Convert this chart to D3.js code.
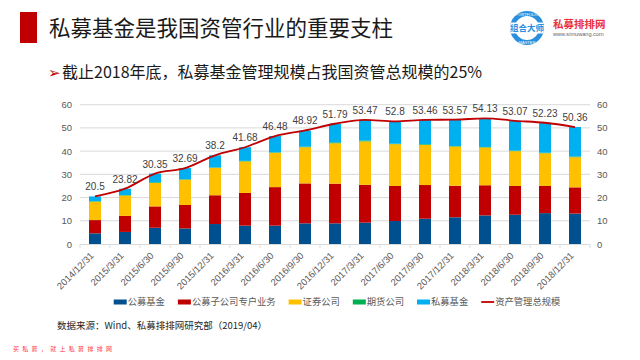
<!DOCTYPE html>
<html lang="zh">
<head>
<meta charset="UTF-8" />
<title>私募基金是我国资管行业的重要支柱</title>
<style>
  body { margin: 0; background: white; overflow: hidden; }
  svg { display: block; }
  text { font-family: "Liberation Sans", Arial, "Noto Sans CJK SC", sans-serif; }
  .cjk { font-family: "Noto Sans CJK SC", "Liberation Sans", sans-serif; }
</style>
</head>
<body>
<svg id="chart" width="640" height="360"></svg>
<script src="https://d3js.org/d3.v7.min.js"></script>
<script>
// ---- data (万亿元) ----
const dates = ["2014/12/31","2015/3/31","2015/6/30","2015/9/30","2015/12/31","2016/3/31",
  "2016/6/30","2016/9/30","2016/12/31","2017/3/31","2017/6/30","2017/9/30","2017/12/31",
  "2018/3/31","2018/6/30","2018/9/30","2018/12/31"];
const publicFunds   = [4.6, 5.2, 7.0, 6.7, 8.6, 7.9, 7.9, 8.9, 8.9, 9.2, 9.9, 10.9, 11.5, 12.3, 12.6, 13.3, 13.1];
const subsidiaries  = [5.7, 6.9, 9.2, 10.1, 12.4, 14.1, 16.6, 17.2, 17.1, 16.3, 15.1, 14.5, 13.6, 13.0, 12.4, 11.7, 11.3];
const securities    = [7.9, 8.8, 10.1, 10.9, 11.8, 13.6, 14.8, 15.6, 17.4, 18.7, 18.0, 17.3, 16.9, 16.3, 15.0, 14.1, 13.0];
const futures       = [0.2, 0.2, 0.3, 0.2, 0.2, 0.2, 0.2, 0.2, 0.4, 0.4, 0.2, 0.3, 0.2, 0.2, 0.2, 0.2, 0.3];
const privateFunds  = [2.1, 2.7, 3.75, 4.8, 5.2, 5.9, 7.0, 7.0, 8.0, 8.9, 9.6, 10.5, 11.4, 12.3, 12.9, 12.9, 12.7];
const totalScale    = [20.5, 23.82, 30.35, 32.69, 38.2, 41.68, 46.48, 48.92, 51.79, 53.47, 52.8, 53.46, 53.57, 54.13, 53.07, 52.23, 50.36];
const seriesNames   = ["公募基金", "公募子公司专户业务", "证券公司", "期货公司", "私募基金"];
const seriesColors  = ["#00508f", "#c00000", "#ffc000", "#00b050", "#00b0f0"];
const lineName = "资产管理总规模";
const lineColor = "#c00000";
const yTicks = [0, 10, 20, 30, 40, 50, 60];

const svg = d3.select("#chart");

// ---- header ----
svg.append("rect").attr("x", 20).attr("y", 12).attr("width", 17).attr("height", 31).attr("fill", "#c00000");
svg.append("text").attr("class", "cjk")
  .attr("x", 49).attr("y", 36)
  .attr("font-size", 21.5).attr("fill", "#1a1a1a")
  .text("私募基金是我国资管行业的重要支柱");

svg.append("text")
  .attr("x", 48).attr("y", 78)
  .attr("font-size", 15).attr("fill", "#c00000")
  .attr("font-family", "DejaVu Sans")
  .text("➢");
svg.append("text").attr("class", "cjk")
  .attr("x", 62).attr("y", 78)
  .attr("font-size", 16).attr("fill", "#1a1a1a")
  .text("截止2018年底，私募基金管理规模占我国资管总规模的25%");

// ---- logo ----
const logo = svg.append("g").attr("transform", "translate(527,28)");
logo.append("clipPath").attr("id", "logo-clip").append("circle").attr("r", 17);
logo.append("circle").attr("r", 17).attr("fill", "#2a8fdc");
logo.append("circle").attr("r", 12).attr("fill", "white");
logo.append("rect").attr("x", -17).attr("y", -5.5).attr("width", 34).attr("height", 11)
  .attr("fill", "white").attr("clip-path", "url(#logo-clip)");
logo.append("text").attr("class", "cjk").attr("text-anchor", "middle").attr("y", 3.2)
  .attr("font-size", 8.5).attr("font-weight", "bold").attr("fill", "#2a8fdc").text("组合大师");
logo.append("text").attr("text-anchor", "middle").attr("y", -12.5)
  .attr("font-size", 4).attr("fill", "white").text("PORTFOLIO");
logo.append("text").attr("text-anchor", "middle").attr("y", 15.5)
  .attr("font-size", 4).attr("fill", "white").text("MASTER");
svg.append("text").attr("class", "cjk")
  .attr("x", 553).attr("y", 28)
  .attr("font-size", 10.5).attr("font-weight", "bold").attr("fill", "#e8313c")
  .text("私募排排网");
svg.append("text")
  .attr("x", 553).attr("y", 36)
  .attr("font-size", 5.6).attr("fill", "#666")
  .text("www.simuwang.com");

// ---- chart ----
const plot = { left: 80, right: 590, top: 104.7, bottom: 244 };

const x = d3.scaleBand().domain(dates).range([plot.left, plot.right]).paddingInner(0.6).paddingOuter(0.3);
const y = d3.scaleLinear().domain([0, 60]).range([plot.bottom, plot.top]);

// gridlines
svg.append("g")
  .selectAll("line")
  .data(yTicks.filter(d => d > 0))
  .join("line")
  .attr("x1", plot.left).attr("x2", plot.right)
  .attr("y1", d => y(d)).attr("y2", d => y(d))
  .attr("stroke", "#d9d9d9").attr("stroke-width", 1);

// axes labels
const leftAxis = svg.append("g").attr("transform", `translate(${plot.left},0)`)
  .call(d3.axisLeft(y).tickValues(yTicks).tickSize(0).tickPadding(8));
const rightAxis = svg.append("g").attr("transform", `translate(${plot.right},0)`)
  .call(d3.axisRight(y).tickValues(yTicks).tickSize(0).tickPadding(7));
[leftAxis, rightAxis].forEach(a => {
  a.select(".domain").remove();
  a.selectAll("text").attr("font-size", 9.5).attr("fill", "#595959");
});

// stacked bars
const rows = dates.map((d, i) => ({
  date: d,
  s0: publicFunds[i], s1: subsidiaries[i], s2: securities[i], s3: futures[i], s4: privateFunds[i]
}));
const stack = d3.stack().keys(["s0", "s1", "s2", "s3", "s4"])(rows);

svg.append("g")
  .selectAll("g")
  .data(stack)
  .join("g")
  .attr("fill", (d, i) => seriesColors[i])
  .selectAll("rect")
  .data(d => d)
  .join("rect")
  .attr("x", d => x(d.data.date))
  .attr("width", x.bandwidth())
  .attr("y", d => y(d[1]))
  .attr("height", d => y(d[0]) - y(d[1]));

// x axis line + ticks at category boundaries
const step = x.step();
const bounds = [plot.left].concat(dates.map(d => x(d) + x.bandwidth() / 2 + step / 2));
const xAxis = svg.append("g");
xAxis.append("line")
  .attr("x1", plot.left).attr("x2", plot.right)
  .attr("y1", plot.bottom + 0.5).attr("y2", plot.bottom + 0.5)
  .attr("stroke", "#d9d9d9");
xAxis.selectAll("line.tick")
  .data(bounds)
  .join("line")
  .attr("class", "tick")
  .attr("x1", d => d).attr("x2", d => d)
  .attr("y1", plot.bottom).attr("y2", plot.bottom + 4)
  .attr("stroke", "#d9d9d9");
xAxis.selectAll("text")
  .data(dates)
  .join("text")
  .attr("transform", d => `translate(${x(d) + x.bandwidth() / 2 - 3},${plot.bottom + 10}) rotate(-45)`)
  .attr("text-anchor", "end")
  .attr("dy", "0.35em")
  .attr("font-size", 9.5)
  .attr("fill", "#595959")
  .text(d => d);

// total line
const line = d3.line()
  .x((d, i) => x(dates[i]) + x.bandwidth() / 2)
  .y(d => y(d))
  .curve(d3.curveMonotoneX);
svg.append("path")
  .datum(totalScale)
  .attr("d", line)
  .attr("fill", "none")
  .attr("stroke", lineColor)
  .attr("stroke-width", 1.8);

// data labels
svg.append("g")
  .selectAll("text")
  .data(totalScale)
  .join("text")
  .attr("x", (d, i) => x(dates[i]) + x.bandwidth() / 2)
  .attr("y", d => y(d) - 6)
  .attr("text-anchor", "middle")
  .attr("font-size", 10)
  .attr("fill", "#404040")
  .text(d => d);

// ---- legend ----
const legendItems = seriesNames.map((n, i) => ({ name: n, color: seriesColors[i], type: "bar" }))
  .concat([{ name: lineName, color: lineColor, type: "line" }]);
const legend = svg.append("g");
const ly = 302;
let lx = 0;
const itemGs = legend.selectAll("g").data(legendItems).join("g");
itemGs.each(function (d) {
  const g = d3.select(this);
  if (d.type === "bar") {
    g.append("rect").attr("x", 0).attr("y", -2.5).attr("width", 13).attr("height", 5).attr("fill", d.color);
  } else {
    g.append("line").attr("x1", 0).attr("x2", 13).attr("y1", 0).attr("y2", 0)
      .attr("stroke", d.color).attr("stroke-width", 1.8);
  }
  const t = g.append("text").attr("class", "cjk")
    .attr("x", 14).attr("y", 0).attr("dy", "0.35em")
    .attr("font-size", 9.3).attr("fill", "#595959").text(d.name);
  d.w = 14 + t.node().getComputedTextLength();
});
itemGs.each(function (d) {
  d3.select(this).attr("transform", `translate(${lx},${ly})`);
  lx += d.w + 13;
});
const legendWidth = lx - 13;
legend.attr("transform", `translate(${337 - legendWidth / 2},0)`);

// ---- footer ----
svg.append("text").attr("class", "cjk")
  .attr("x", 57).attr("y", 329)
  .attr("font-size", 9.5).attr("fill", "#262626")
  .text("数据来源：Wind、私募排排网研究部（2019/04）");
svg.append("text").attr("class", "cjk")
  .attr("x", 13).attr("y", 351)
  .attr("font-size", 6).attr("fill", "#ff3b3b")
  .attr("letter-spacing", 3.3)
  .text("买私募，就上私募排排网");
</script>
</body>
</html>
